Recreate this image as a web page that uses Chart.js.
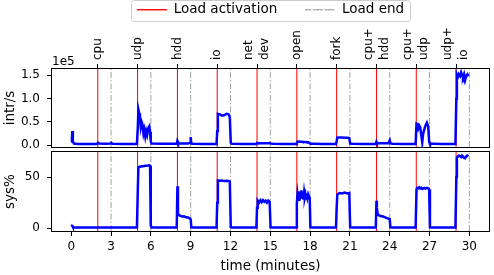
<!DOCTYPE html>
<html><head><meta charset="utf-8">
<script src="https://cdn.jsdelivr.net/npm/chart.js@4/dist/chart.umd.min.js"></script>
<style>
html,body{margin:0;padding:0;background:#fff;overflow:hidden}
#wrap{position:relative;width:494px;height:275px;overflow:hidden;background:#fff}
#c1{position:absolute;left:0;top:-25px}
#c2{position:absolute;left:0;top:150px}
</style></head><body>
<div id="wrap"><canvas id="c1" width="494" height="175"></canvas><canvas id="c2" width="494" height="125"></canvas></div>
<script>
// ---- data ----
const timeMin = [
  0.00,0.05,0.08,0.12,0.20,0.50,1.00,1.50,1.95,2.02,2.10,2.50,2.95,3.02,3.10,4.00,4.95,
  5.02,5.06,5.12,5.18,5.24,5.30,5.36,5.44,5.50,5.58,5.65,5.72,5.80,5.88,5.94,5.99,6.05,7.00,7.95,
  8.00,8.04,8.10,8.20,8.35,8.50,8.65,8.80,8.95,9.00,9.05,9.20,10.00,10.95,
  11.00,11.05,11.20,11.35,11.50,11.70,11.85,11.95,12.02,12.10,13.00,13.95,
  14.00,14.05,14.15,14.25,14.35,14.45,14.55,14.65,14.75,14.85,14.95,15.02,15.20,16.00,16.95,
  17.00,17.05,17.10,17.15,17.20,17.25,17.30,17.35,17.40,17.45,17.50,17.55,17.60,17.65,17.70,17.75,17.80,17.85,17.90,17.97,18.02,18.20,19.00,19.95,
  20.00,20.05,20.20,20.40,20.60,20.80,20.95,21.02,21.20,22.00,22.95,
  23.00,23.03,23.08,23.15,23.30,23.50,23.70,23.90,24.00,24.05,24.20,25.00,25.95,
  26.02,26.08,26.15,26.22,26.30,26.38,26.45,26.52,26.60,26.70,26.80,26.90,26.97,27.03,27.20,28.00,28.95,
  29.02,29.06,29.12,29.20,29.30,29.38,29.45,29.52,29.60,29.68,29.75,29.85,29.93
];
const intrPerSec = [
  7000,12000,30000,8000,3000,2200,2000,2000,2000,4800,3000,2600,3000,4800,2500,2400,2400,
  40000,76000,68000,62000,40000,50000,45000,25000,33000,18000,30000,22000,36000,40000,28000,8000,3000,2500,2500,
  9000,6000,4000,3000,3000,3000,3000,3000,5000,17000,3000,2500,2400,2400,
  30000,67000,66000,63000,64000,67000,66000,60000,5000,2500,2400,2400,
  4500,4000,3800,3800,3600,3600,3500,3500,3500,3500,4500,3000,2500,2400,2400,
  5000,7500,7000,7000,7500,7000,7000,7000,7000,6500,6500,6500,6500,6500,6500,6000,6000,6000,5500,4000,2500,2500,2400,2400,
  8000,16000,16000,16000,15500,15500,15000,3000,2500,2400,2400,
  7000,5000,4000,4000,3500,3500,3500,3500,10000,3500,2500,2400,2400,
  46000,45000,36000,42000,38000,20000,6000,25000,33000,42000,48000,40000,7000,2500,2500,2400,2400,
  100000,150000,145000,152000,148000,156000,150000,145000,152000,140000,148000,152000,148000
];
const sysPercent = [
  3.2,3.0,2.6,1.5,0.9,0.8,0.7,0.7,0.7,0.9,0.8,0.8,0.8,0.9,0.8,0.8,0.8,
  40,59.5,60.0,60.2,60.3,60.5,60.5,60.6,60.8,61.0,61.0,61.2,61.3,61.5,61.0,3,0.8,0.8,0.8,
  41,15,13,12.5,11.5,11.8,10.8,10.5,9.5,9,1,0.8,0.8,0.8,
  25,46.8,46.5,46.6,46.3,46.4,46.2,45.5,1.2,0.8,0.8,0.8,
  20,27,25,27.5,25.5,27.5,26,27,25,27,26,1,0.8,0.8,0.8,
  24,33,28,36,27,35,29,37,30,34,28,35,30,33,29,34,30,33,31,30,1,0.8,0.8,0.8,
  20,33,34.5,34,34.8,34,34.5,1,0.8,0.8,0.8,
  27,20,15,13,12,11.5,10.5,9.5,9,1,0.8,0.8,0.8,
  38,39.5,39,40,39,39.5,38.5,39,39.5,38.8,39.5,39,38,1,0.8,0.8,0.8,
  50,69,70,71,70.5,69.5,71,70,69,68.5,70,71,70.5
];
const loadStart = [2,5,8,11,14,17,20,23,26,29];
const loadEnd = [3,6,9,12,15,18,21,24,27,30];
const loadNames = ['cpu','udp','hdd','io',['net','dev'],'open','fork',['cpu+','hdd'],['cpu+','udp'],['udp+','io']];
const timeTicks = [0,3,6,9,12,15,18,21,24,27,30];
const intrTicks = [0,50000,100000,150000];
const sysTicks = [0,50];

// ---- setup ----
Chart.defaults.font.family = "'DejaVu Sans', sans-serif";
Chart.defaults.font.size = 12;
Chart.defaults.color = '#000';

const X_MIN = -1.45, X_MAX = 31.48;
const Y1_MIN = -4300, Y1_MAX = 163400;
const Y2_MIN = -2.6, Y2_MAX = 74.5;

function vlines(times, lo, hi){
  const pts = [];
  times.forEach(t => { pts.push({x:t,y:lo},{x:t,y:hi},{x:t,y:null}); });
  return pts;
}
function series(vals){ return timeMin.map((t,i)=>({x:t,y:vals[i]})); }
function noPad(s){ s.paddingTop = 0; s.paddingBottom = 0; s.paddingLeft = 0; s.paddingRight = 0; }

const framePlugin = {
  id:'frame',
  afterDraw(chart){
    const a = chart.chartArea, ctx = chart.ctx;
    ctx.save();
    ctx.strokeStyle = '#000'; ctx.lineWidth = 1;
    ctx.strokeRect(a.left - 0.5, a.top - 0.5, a.right - a.left + 1, a.bottom - a.top + 1);
    ctx.restore();
  }
};
const offsetTextPlugin = {
  id:'offsetText',
  afterDraw(chart){
    const a = chart.chartArea, ctx = chart.ctx;
    ctx.save();
    ctx.font = "12px 'DejaVu Sans'";
    ctx.fillStyle = '#000';
    ctx.textAlign = 'left'; ctx.textBaseline = 'alphabetic';
    ctx.fillText('1e5', a.left, a.top - 4);
    ctx.restore();
  }
};
const legendFramePlugin = {
  id:'legendFrame',
  beforeDraw(chart){
    const lg = chart.legend;
    if (!lg || !lg.legendHitBoxes || !lg.legendHitBoxes.length) return;
    const hb = lg.legendHitBoxes;
    const l = hb[0].left - 6;
    const last = hb[hb.length-1];
    const r = last.left + last.width + 6;
    const cy = hb[0].top + hb[0].height/2;
    const ctx = chart.ctx;
    ctx.save();
    ctx.beginPath();
    ctx.roundRect(Math.round(l)+0.5, Math.round(cy - 9.5)+0.5, Math.round(r-l), 21, 3);
    ctx.fillStyle = 'rgba(255,255,255,0.8)';
    ctx.fill();
    ctx.strokeStyle = '#cccccc'; ctx.lineWidth = 1;
    ctx.stroke();
    ctx.restore();
  }
};

const lineStyle = {borderColor:'#0000ff', backgroundColor:'#0000ff', borderWidth:2.5, pointRadius:0, tension:0, order:0};
const actStyle = {borderColor:'#ff0000', backgroundColor:'#ff0000', borderWidth:1, pointRadius:0, order:1};
const endStyle = {borderColor:'#a0a0a0', backgroundColor:'#a0a0a0', borderWidth:1, borderDash:[6,2,1.5,2], pointRadius:0, order:2};

new Chart(document.getElementById('c1'), {
  type:'line',
  data:{datasets:[
    Object.assign({label:'intr/s', data:series(intrPerSec)}, lineStyle),
    Object.assign({label:'Load activation', data:vlines(loadStart, Y1_MIN, Y1_MAX)}, actStyle),
    Object.assign({label:'Load end', data:vlines(loadEnd, Y1_MIN, Y1_MAX)}, endStyle)
  ]},
  options:{
    responsive:false, animation:false, events:[],
    layout:{padding:{left:0,right:5,top:0,bottom:3}},
    plugins:{
      legend:{display:true, position:'top', fullSize:false, maxHeight:48,
        labels:{filter:(it)=>it.datasetIndex>0, boxWidth:30, boxHeight:0, padding:28, font:{size:13.5}, color:'#000'}},
      tooltip:{enabled:false}
    },
    scales:{
      x:{type:'linear', position:'top', min:X_MIN, max:X_MAX,
        afterBuildTicks:(s)=>{ s.ticks = loadStart.map(v=>({value:v})); },
        afterFit:(s)=>{ s.height = 46; noPad(s); },
        ticks:{autoSkip:false, minRotation:90, maxRotation:90, padding:4, labelOffset:24, color:'#000',
          font:(c)=>({size:12, lineHeight: Array.isArray(loadNames[c.index]) ? 16/12 : 2}),
          callback:(v,i)=>loadNames[i]},
        grid:{display:true, drawOnChartArea:false, drawTicks:true, tickLength:5, tickColor:'#000', tickWidth:1},
        border:{display:false}},
      y:{type:'linear', min:Y1_MIN, max:Y1_MAX,
        afterBuildTicks:(s)=>{ s.ticks = intrTicks.map(v=>({value:v})); },
        afterFit:(s)=>{ s.width = 52; noPad(s); },
        ticks:{padding:7, font:{size:12}, color:'#000', callback:(v)=>(v/1e5).toFixed(1)},
        grid:{display:true, drawOnChartArea:false, tickLength:5, tickColor:'#000'},
        border:{display:false},
        title:{display:true, text:'intr/s', font:{size:13.5}, color:'#000', padding:{top:2,bottom:0}}}
    }
  },
  plugins:[legendFramePlugin, framePlugin, offsetTextPlugin]
});

new Chart(document.getElementById('c2'), {
  type:'line',
  data:{datasets:[
    Object.assign({label:'sys%', data:series(sysPercent)}, lineStyle),
    Object.assign({label:'Load activation', data:vlines(loadStart, Y2_MIN, Y2_MAX)}, actStyle),
    Object.assign({label:'Load end', data:vlines(loadEnd, Y2_MIN, Y2_MAX)}, endStyle)
  ]},
  options:{
    responsive:false, animation:false, events:[],
    layout:{padding:{left:0,right:5,top:2,bottom:0}},
    plugins:{legend:{display:false}, tooltip:{enabled:false}},
    scales:{
      x:{type:'linear', position:'bottom', min:X_MIN, max:X_MAX,
        afterBuildTicks:(s)=>{ s.ticks = timeTicks.map(v=>({value:v})); },
        afterFit:(s)=>{ s.height = 44; noPad(s); },
        ticks:{autoSkip:false, maxRotation:0, minRotation:0, padding:4, font:{size:12}, color:'#000'},
        grid:{display:true, drawOnChartArea:false, tickLength:5, tickColor:'#000'},
        border:{display:false},
        title:{display:true, text:'time (minutes)', font:{size:13.5}, color:'#000', padding:{top:0,bottom:0}}},
      y:{type:'linear', min:Y2_MIN, max:Y2_MAX,
        afterBuildTicks:(s)=>{ s.ticks = sysTicks.map(v=>({value:v})); },
        afterFit:(s)=>{ s.width = 52; noPad(s); },
        ticks:{padding:7, font:{size:12}, color:'#000'},
        grid:{display:true, drawOnChartArea:false, tickLength:5, tickColor:'#000'},
        border:{display:false},
        title:{display:true, text:'sys%', font:{size:13.5}, color:'#000', padding:{top:2,bottom:0}}}
    }
  },
  plugins:[framePlugin]
});
</script>
</body></html>
